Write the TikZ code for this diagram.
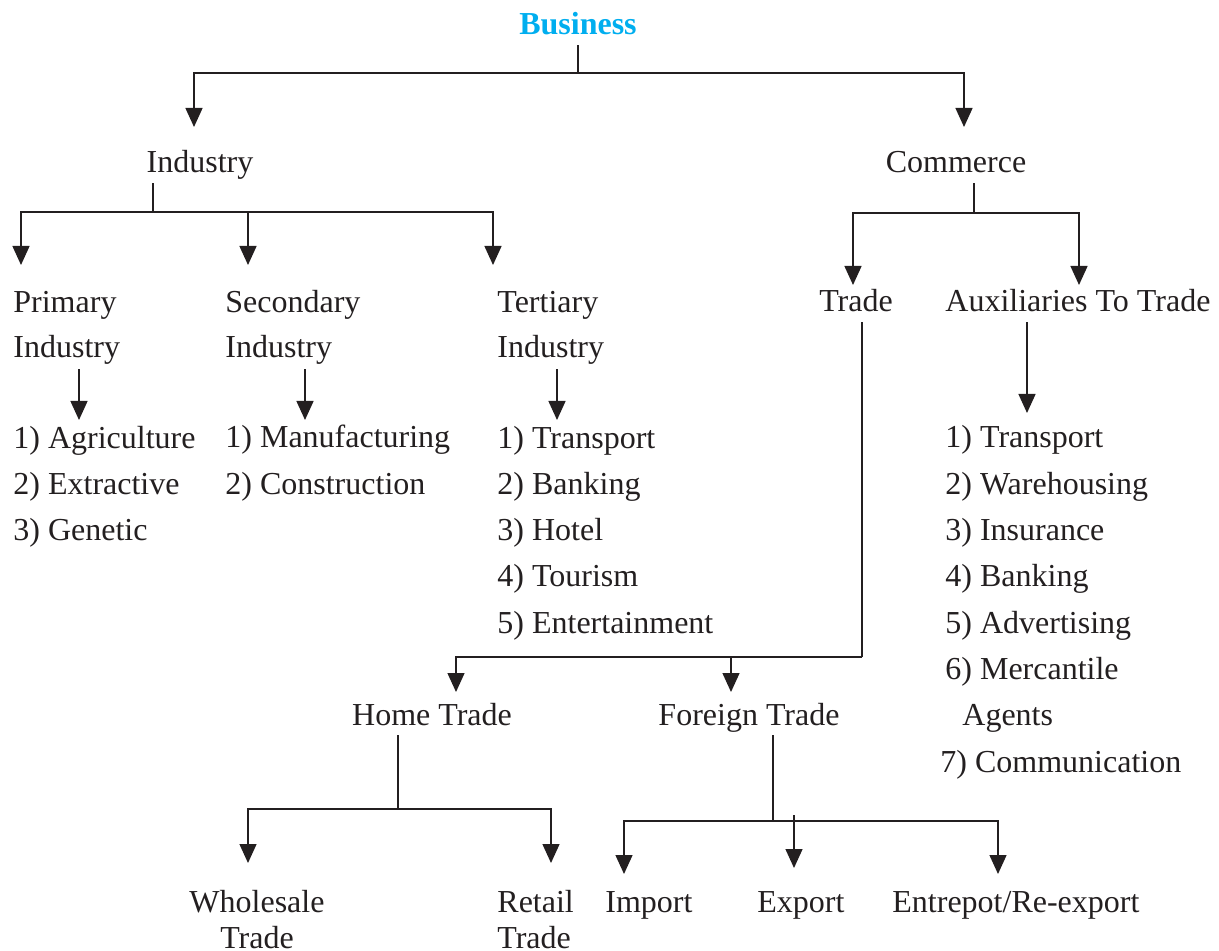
\documentclass[tikz,border=0pt]{standalone}
\usepackage{fontspec}
\setmainfont{Liberation Serif}
\usetikzlibrary{arrows.meta, positioning}
\definecolor{bizblue}{RGB}{0,174,239}
\definecolor{ink}{RGB}{35,31,32}

\begin{document}
\begin{tikzpicture}[x=0.5pt, y=-0.5pt, >={Triangle[width=8.5pt,length=9.5pt]},
  line/.style={draw=ink, line width=0.7pt},
  arr/.style={line, ->},
  word/.style={inner sep=2pt, text depth=3pt, text=ink, font=\fontsize{16}{20}\selectfont},
  block/.style={inner sep=2pt, text=ink, align=left, anchor=base west, font=\fontsize{16}{22.5}\selectfont},
  items/.style={block, font=\fontsize{16}{23.15}\selectfont}]
	\useasboundingbox (0,0) rectangle (1219,951);

	% top level
	\node [word, anchor=base, text=bizblue, font=\bfseries\fontsize{16}{20}\selectfont] (business) at (578,35) {Business};
	\node [word, anchor=base] (industry) at (200,173) {Industry};
	\node [word, anchor=base] (commerce) at (956,173) {Commerce};

	% industry side (block nodes sit on their last line)
	\node [block] (primary) at (9,358) {Primary\\Industry};
	\node [block] (secondary) at (221,358) {Secondary\\Industry};
	\node [block] (tertiary) at (493,358) {Tertiary\\Industry};
	\node [items] (primlist) at (9,540.6) {1) Agriculture\\2) Extractive\\3) Genetic};
	\node [items] (seclist) at (221,494.3) {1) Manufacturing\\2) Construction};
	\node [items] (terlist) at (493,633.2) {1) Transport\\2) Banking\\3) Hotel\\4) Tourism\\5) Entertainment};

	% commerce side
	\node [word, anchor=base] (trade) at (856,312) {Trade};
	\node [word, anchor=base west] (aux) at (941,312) {Auxiliaries To Trade};
	\node [items] (auxlist) at (941,772) {1) Transport\\2) Warehousing\\3) Insurance\\4) Banking\\5) Advertising\\6) Mercantile\\\hspace*{8.5pt}Agents\\\hspace*{-2.5pt}7) Communication};

	% trade
	\node [word, anchor=base] (home) at (432,725) {Home Trade};
	\node [word, anchor=base] (foreign) at (749,725) {Foreign Trade};
	\node [block, align=center, anchor=base, font=\fontsize{16}{18}\selectfont] (wholesale) at (257,948) {Wholesale\\Trade};
	\node [block, font=\fontsize{16}{18}\selectfont] (retail) at (493,948) {Retail\\Trade};
	\node [word, anchor=base west] (import) at (601,912) {Import};
	\node [word, anchor=base west] (export) at (753,912) {Export};
	\node [word, anchor=base west] (entrepot) at (888,912) {Entrepot/Re-export};

	% joints and arrow ends
	\coordinate (bizbar) at (578,73);
	\coordinate (indtip) at (194,127);
	\coordinate (comtip) at (964,127);
	\coordinate (indbar) at (153,212);
	\coordinate (primtip) at (21,265);
	\coordinate (sectip) at (248,265);
	\coordinate (tertip) at (493,265);
	\coordinate (combar) at (974,213);
	\coordinate (tradetip) at (853,285);
	\coordinate (auxtip) at (1079,285);
	\coordinate (primlisttip) at (79,420);
	\coordinate (seclisttip) at (305,420);
	\coordinate (terlisttip) at (557,420);
	\coordinate (auxlisttip) at (1027,413);
	\coordinate (tradebar) at (862,657);
	\coordinate (hometip) at (456,692);
	\coordinate (foreigntip) at (731,692);
	\coordinate (homebar) at (398,809);
	\coordinate (wholetip) at (248,863);
	\coordinate (retailtip) at (551,863);
	\coordinate (forbar) at (773,821);
	\coordinate (importtip) at (624,874);
	\coordinate (exporttop) at (794,815);
	\coordinate (exporttip) at (794,868);
	\coordinate (entrepottip) at (998,874);

	\draw [line] (business.south) -- (bizbar);
	\draw [arr] (bizbar) -| (indtip);
	\draw [arr] (bizbar) -| (comtip);

	\draw [line] (industry.south -| indbar) -- (indbar);
	\draw [arr] (indbar) -| (primtip);
	\draw [arr] (indbar) -| (sectip);
	\draw [arr] (indbar) -| (tertip);
	\draw [arr] (primary.south -| primlisttip) -- (primlisttip);
	\draw [arr] (secondary.south -| seclisttip) -- (seclisttip);
	\draw [arr] (tertiary.south -| terlisttip) -- (terlisttip);

	\draw [line] (commerce.south -| combar) -- (combar);
	\draw [arr] (combar) -| (tradetip);
	\draw [arr] (combar) -| (auxtip);
	\draw [arr] (aux.south -| auxlisttip) -- (auxlisttip);

	\draw [line] (trade.south -| tradebar) -- (tradebar);
	\draw [arr] (tradebar) -| (hometip);
	\draw [arr] (tradebar) -| (foreigntip);

	\draw [line] (home.south -| homebar) -- (homebar);
	\draw [arr] (homebar) -| (wholetip);
	\draw [arr] (homebar) -| (retailtip);

	\draw [line] (foreign.south -| forbar) -- (forbar);
	\draw [arr] (forbar) -| (importtip);
	\draw [arr] (forbar) -| (entrepottip);
	\draw [arr] (exporttop) -- (exporttip);
\end{tikzpicture}
\end{document}
